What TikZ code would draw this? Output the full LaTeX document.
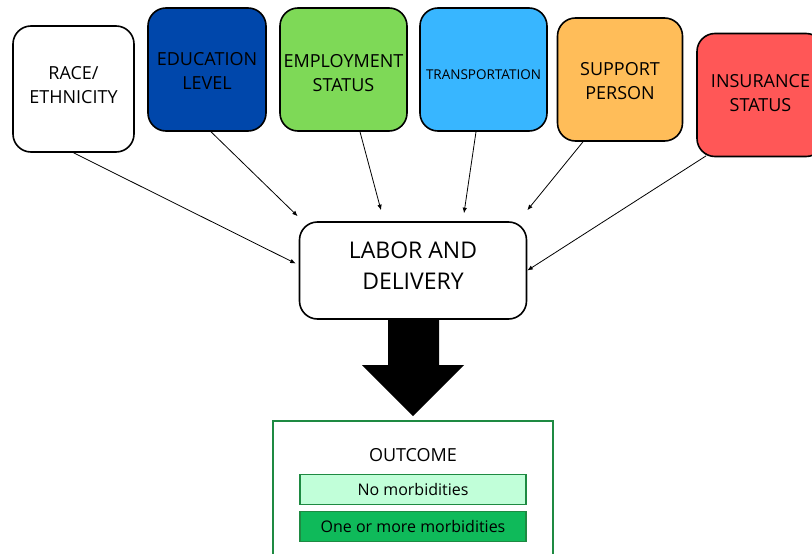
\documentclass[tikz,border=0pt]{standalone}
\usepackage{fontspec}
\setmainfont{Open Sans}
\usetikzlibrary{arrows.meta}

\definecolor{edublue}{HTML}{0047AB}
\definecolor{empgreen}{HTML}{7ED957}
\definecolor{transblue}{HTML}{38B6FF}
\definecolor{suporange}{HTML}{FFBD59}
\definecolor{insred}{HTML}{FF5757}
\definecolor{outgreen}{HTML}{1E8A42}
\definecolor{nomorb}{HTML}{C1FFD9}
\definecolor{somemorb}{HTML}{0FBA5A}

\begin{document}
\begin{tikzpicture}[x=1pt, y=-1pt,
  main/.style = {draw, line width=1.6pt, rounded corners=18pt, inner sep=0pt,
                 minimum width=125pt, minimum height=123pt},
  txt/.style = {align=center, inner sep=0pt, font=\fontsize{18}{24}\selectfont},
  result/.style = {draw=outgreen, line width=1.6pt, minimum width=226pt, minimum height=30pt,
                   inner sep=0pt, font=\fontsize{16}{18}\selectfont},
  arr/.style = {-{Latex[length=5.5pt,width=4.5pt]}, line width=0.8pt}]
\clip (0,0) rectangle (812,554);
% factor boxes
\node[main, fill=white, minimum width=121pt, minimum height=126pt] (race) at (73.5,89) {};
\node[main, fill=edublue, minimum width=118pt] (edu) at (207,69.5) {};
\node[main, fill=empgreen, minimum width=127pt] (emp) at (343.5,69.5) {};
\node[main, fill=transblue, minimum width=127pt] (trans) at (483.5,69.5) {};
\node[main, fill=suporange] (sup) at (620,79.5) {};
\node[main, fill=insred, minimum width=127pt] (ins) at (760.5,95) {};
\node[txt] (racetxt) at ([yshift=3.5pt]race) {RACE/\\ETHNICITY};
\node[txt] (edutxt) at ([yshift=-1pt]edu) {EDUCATION\\LEVEL};
\node[txt] (emptxt) at ([yshift=-4pt]emp) {EMPLOYMENT\\STATUS};
\node[txt, font=\fontsize{13.5}{16}\selectfont] (transtxt) at ([yshift=-5.5pt]trans) {TRANSPORTATION};
\node[txt] (suptxt) at ([yshift=-2pt]sup) {SUPPORT\\PERSON};
\node[txt] (instxt) at ([yshift=1.5pt]ins) {INSURANCE\\STATUS};
% central box
\node[main, fill=white, minimum width=227pt, minimum height=97pt] (ld) at (413,270.5) {};
\node[txt, font=\fontsize{23}{31}\selectfont] (ldtxt) at ([yshift=5pt]ld) {LABOR AND\\DELIVERY};
% arrows into labor and delivery
\draw[arr] (race.south) -- ([xshift=-3pt,yshift=7pt]ld.west);
\draw[arr] ([xshift=4pt]edu.south) -- ([xshift=-1pt,yshift=5pt]ld.north west);
\draw[arr] ([xshift=16.5pt]emp.south) -- ([xshift=-32pt,yshift=11pt]ld.north);
\draw[arr] ([xshift=-7.5pt]trans.south) -- ([xshift=51pt,yshift=8pt]ld.north);
\draw[arr] ([xshift=-37pt]sup.south) -- ([yshift=11pt]ld.north east);
\draw[arr] ([xshift=10pt,yshift=1.5pt]ins.south west) -- (ld.east);
% big arrow down
\fill (388,319) -- (439,319) -- (439,365) -- (464,365) -- (413,416) -- (362,365) -- (388,365) -- cycle;
% outcome
\node[draw=outgreen, line width=1.6pt, minimum width=280pt, minimum height=150pt] (out) at (413,496) {};
\node[font=\fontsize{18}{22}\selectfont] (outlbl) at (413,455) {OUTCOME};
\node[result, fill=nomorb] (none) at (413,489.5) {No morbidities};
\node[result, fill=somemorb] (some) at (413,526.5) {One or more morbidities};
\end{tikzpicture}
\end{document}
